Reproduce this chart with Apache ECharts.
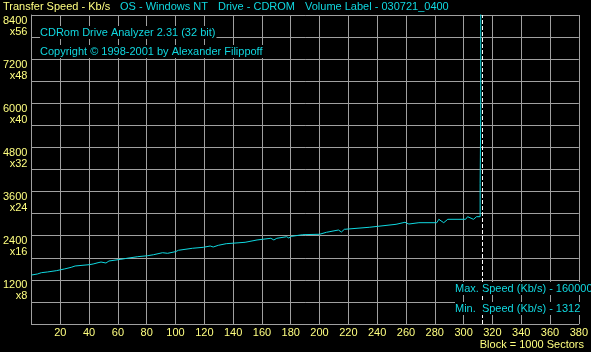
<!DOCTYPE html>
<html>
<head>
<meta charset="utf-8">
<script src="https://cdn.jsdelivr.net/npm/echarts@6/dist/echarts.min.js"></script>
<style>
  html, body { margin: 0; padding: 0; background: #000; }
  #chart { width: 591px; height: 352px; }
</style>
</head>
<body>
<div id="chart"></div>
<script>
// 数据：块号(千扇区) 与 传输速度 Kb/s
var blocks = [0, 4.1, 6.9, 11, 17.2, 22.8, 27.6, 30.3, 40, 42.8, 46.2, 48.3, 51.7, 53.8, 62.1, 66.2, 73.8, 80.7, 84.8, 91, 94.5, 100, 102,
  111.7, 119.3, 124.1, 126.2, 129.7, 135.2, 148.3, 156.6, 166.2, 168.3, 170.3, 177.2, 178.6, 180.7, 188.3, 200, 204.8, 213.1, 215.2,
  217.2, 234.5, 253.1, 259.3, 262, 269, 281.4, 282.8, 286.2, 289, 301.4, 302.8, 306.9, 309, 311.5, 311.5, 311.9, 311.9, 312.6, 313];
var speeds = [1332, 1359, 1395, 1414, 1449, 1495, 1541, 1577, 1612, 1631, 1666, 1685, 1658, 1713, 1759, 1786, 1830, 1857, 1884, 1938, 1922, 1966, 2004,
  2058, 2085, 2120, 2093, 2139, 2183, 2221, 2284, 2330, 2284, 2330, 2373, 2338, 2384, 2428, 2439, 2493, 2555, 2501,
  2574, 2629, 2710, 2765, 2718, 2754, 2754, 2846, 2754, 2846, 2846, 2917, 2846, 2917, 2917, 3825, 3825, 5636, 5636, 1600000];
// y轴刻度标签
var yTickValues = [1200, 2400, 3600, 4800, 6000, 7200, 8400];
var yTickSpeeds = ['x8', 'x16', 'x24', 'x32', 'x40', 'x48', 'x56'];
var endBlock = 313; // 虚线位置

var CYAN = '#10d8e0';
var YELLOW = '#ffff80';
var GRID = '#a0a0a0';
var FONT = 'Liberation Sans';

var myChart = echarts.init(document.getElementById('chart'));
var lineData = blocks.map(function (b, i) { return [b, speeds[i]]; });

// 文字块（带黑色背景，遮住网格线）
function label(x, y, text, color, bg) {
  return {
    type: 'text', left: x, top: y, z: 100,
    style: { text: text, fill: color, font: '11px ' + FONT, backgroundColor: bg ? '#000' : null, padding: bg ? [1, 1, 1, 0] : 0 }
  };
}

var option = {
  backgroundColor: '#000',
  animation: false,
  grid: { left: 30, right: 10, top: 15, bottom: 28, containLabel: false },
  xAxis: {
    type: 'value',
    min: 0,
    max: 380,
    interval: 20,
    axisLine: { lineStyle: { color: GRID, width: 1 } },
    axisTick: { show: false },
    splitLine: { lineStyle: { color: GRID, width: 1 } },
    axisLabel: {
      color: YELLOW, fontFamily: FONT, fontSize: 11, margin: 3,
      formatter: function (v) { return v === 0 ? '' : v; }
    }
  },
  yAxis: {
    type: 'value',
    min: 0,
    max: 8400,
    interval: 600,
    axisLine: { show: true, lineStyle: { color: GRID, width: 1 } },
    axisTick: { show: false },
    splitLine: { lineStyle: { color: GRID, width: 1 } },
    axisLabel: {
      color: YELLOW, fontFamily: FONT, fontSize: 11, lineHeight: 11, margin: 4,
      align: 'right', verticalAlign: 'top',
      formatter: function (v) {
        var i = yTickValues.indexOf(v);
        return i < 0 ? '' : v + '\n' + yTickSpeeds[i];
      }
    }
  },
  series: [
    {
      type: 'line',
      data: lineData,
      symbol: 'none',
      clip: true,
      z: 3,
      lineStyle: { color: CYAN, width: 1 },
      markLine: {
        silent: true,
        symbol: 'none',
        z: 2,
        label: { show: false },
        lineStyle: { color: '#ffffff', type: [4, 2], width: 1 },
        data: [{ xAxis: endBlock }]
      }
    }
  ],
  graphic: [
    label(3, 1, 'Transfer Speed - Kb/s', YELLOW),
    label(120, 1, 'OS - Windows NT', CYAN),
    label(218, 1, 'Drive - CDROM', CYAN),
    label(305, 1, 'Volume Label - 030721_0400', CYAN),
    label(40, 26, 'CDRom Drive Analyzer 2.31 (32 bit)', CYAN, true),
    label(40, 45, 'Copyright \u00a9 1998-2001 by Alexander Filippoff', CYAN, true),
    label(455, 282, 'Max. Speed (Kb/s) - 1600000', CYAN, true),
    label(455, 302, 'Min.  Speed (Kb/s) - 1312', CYAN, true),
    { type: 'text', right: 7, top: 339, z: 100, style: { text: 'Block = 1000 Sectors', fill: YELLOW, font: '11px ' + FONT } }
  ]
};
myChart.setOption(option);
window.addEventListener('resize', function () {
  myChart.resize();
});
</script>
</body>
</html>
